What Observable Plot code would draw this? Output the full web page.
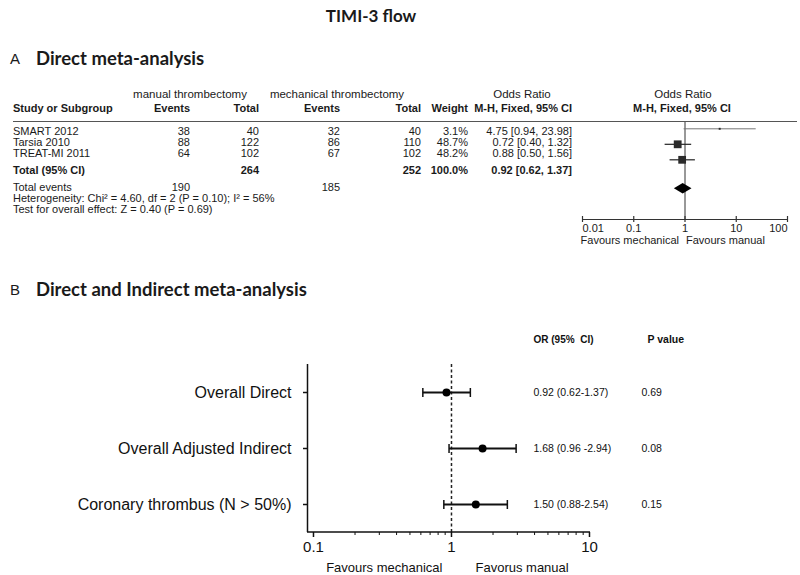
<!DOCTYPE html>
<html><head><meta charset="utf-8">
<script src="https://cdn.jsdelivr.net/npm/d3@7"></script>
<script src="https://cdn.jsdelivr.net/npm/@observablehq/plot@0.6"></script>
<style>
body{margin:0;background:#fff;}
#fig{position:relative;width:800px;height:575px;overflow:hidden;font-family:"Liberation Sans",Arial,sans-serif;color:#1a1a1a;}
.t{position:absolute;white-space:nowrap;}
.h{font-family:Lato,"Open Sans",sans-serif;font-weight:bold;}
#fig svg{position:absolute;left:0;}
</style></head><body><div id="fig"></div>
<script>
// ---------- data: panel A ----------
const studies = ["SMART 2012", "Tarsia 2010", "TREAT-MI 2011"];
const manualEvents = [38, 88, 64];
const manualTotal = [40, 122, 102];
const mechEvents = [32, 86, 67];
const mechTotal = [40, 110, 102];
const weights = [3.1, 48.7, 48.2];
const orEst = [4.75, 0.72, 0.88];
const orLo = [0.94, 0.40, 0.50];
const orHi = [23.98, 1.32, 1.56];
const pooledOR = 0.92, pooledLo = 0.62, pooledHi = 1.37;
const heterogeneityText = "Heterogeneity: Chi\u00B2 = 4.60, df = 2 (P = 0.10); I\u00B2 = 56%";
const overallText = "Test for overall effect: Z = 0.40 (P = 0.69)";
const ticksA = [0.01, 0.1, 1, 10, 100];

// ---------- data: panel B ----------
const comparisons = ["Overall Direct", "Overall Adjusted Indirect", "Coronary thrombus (N > 50%)"];
const bOR = [0.92, 1.68, 1.50];
const bLo = [0.62, 0.96, 0.88];
const bHi = [1.37, 2.94, 2.54];
const bCIText = ["0.92 (0.62-1.37)", "1.68 (0.96 -2.94)", "1.50 (0.88-2.54)"];
const bP = ["0.69", "0.08", "0.15"];
const ticksB = [0.1, 1, 10];
const minorTicksB = [0.2, 0.3, 0.4, 0.5, 0.6, 0.7, 0.8, 0.9, 2, 3, 4, 5, 6, 7, 8, 9];

// ---------- helpers ----------
const fig = document.getElementById("fig");
function put(txt, x, y, o = {}) {
  const {anchor = "start", size = 11, bold = false, cls = ""} = o;
  const el = document.createElement("div");
  el.className = "t " + cls;
  el.textContent = txt;
  el.style.fontSize = size + "px";
  el.style.lineHeight = size + "px";
  el.style.top = (y - size / 2) + "px";
  if (bold) el.style.fontWeight = "bold";
  if (anchor === "start") el.style.left = x + "px";
  else if (anchor === "end") el.style.right = (800 - x) + "px";
  else { el.style.left = x + "px"; el.style.transform = "translateX(-50%)"; }
  fig.appendChild(el);
  return el;
}
const fmt2 = v => v.toFixed(2);

// ---------- titles ----------
put("TIMI-3 flow", 371, 15, {anchor: "middle", size: 17, cls: "h"});
put("A", 10, 58, {size: 15});
put("Direct meta-analysis", 36, 58, {size: 18.5, cls: "h"});
put("B", 10, 289, {size: 15});
put("Direct and Indirect meta-analysis", 36, 289, {size: 18.5, cls: "h"});

// ---------- panel A table ----------
const col = {ev1: 190, tot1: 259, ev2: 340, tot2: 421, w: 468, or: 572};
put("manual thrombectomy", 190, 95, {anchor: "middle", size: 11.5});
put("mechanical thrombectomy", 337, 95, {anchor: "middle", size: 11.5});
put("Odds Ratio", 522, 95, {anchor: "middle", size: 11.5});
put("Odds Ratio", 683, 95, {anchor: "middle", size: 11.5});
put("Study or Subgroup", 13, 108, {bold: true});
put("Events", col.ev1, 108, {anchor: "end", bold: true});
put("Total", col.tot1, 108, {anchor: "end", bold: true});
put("Events", col.ev2, 108, {anchor: "end", bold: true});
put("Total", col.tot2, 108, {anchor: "end", bold: true});
put("Weight", col.w, 108, {anchor: "end", bold: true});
put("M-H, Fixed, 95% CI", col.or, 108, {anchor: "end", bold: true});
put("M-H, Fixed, 95% CI", 682, 108, {anchor: "middle", bold: true});
const line = document.createElement("div");
Object.assign(line.style, {position: "absolute", left: "13px", top: "121px", width: "784px", height: "0", borderTop: "1.5px solid #555"});
fig.appendChild(line);

const tableRowsY = [131.7, 142.7, 153.3];
studies.forEach((s, i) => {
  const y = tableRowsY[i];
  put(s, 13, y);
  put(String(manualEvents[i]), col.ev1, y, {anchor: "end"});
  put(String(manualTotal[i]), col.tot1, y, {anchor: "end"});
  put(String(mechEvents[i]), col.ev2, y, {anchor: "end"});
  put(String(mechTotal[i]), col.tot2, y, {anchor: "end"});
  put(weights[i].toFixed(1) + "%", col.w, y, {anchor: "end"});
  put(`${fmt2(orEst[i])} [${fmt2(orLo[i])}, ${fmt2(orHi[i])}]`, col.or, y, {anchor: "end"});
});
put("Total (95% CI)", 13, 170, {bold: true});
put(String(d3.sum(manualTotal)), col.tot1, 170, {anchor: "end", bold: true});
put(String(d3.sum(mechTotal)), col.tot2, 170, {anchor: "end", bold: true});
put(d3.sum(weights).toFixed(1) + "%", col.w, 170, {anchor: "end", bold: true});
put(`${fmt2(pooledOR)} [${fmt2(pooledLo)}, ${fmt2(pooledHi)}]`, col.or, 170, {anchor: "end", bold: true});
put("Total events", 13, 187.3);
put(String(d3.sum(manualEvents)), col.ev1, 187.3, {anchor: "end"});
put(String(d3.sum(mechEvents)), col.ev2, 187.3, {anchor: "end"});
put(heterogeneityText, 13, 198.3);
put(overallText, 13, 209);

// ---------- panel A forest ----------
const rowsA = studies.map((s, i) => ({study: s, row: i, or: orEst[i], lo: orLo[i], hi: orHi[i], weight: weights[i]}));
const totalRow = studies.length + 0.87;
const dh = 0.34;
const diamond = [
  {x: pooledLo, y1: totalRow, y2: totalRow},
  {x: pooledOR, y1: totalRow - dh, y2: totalRow + dh},
  {x: pooledHi, y1: totalRow, y2: totalRow}
];
const hA = 130, mbA = 33, frameBottomA = hA - mbA;
const yA = d3.scaleLinear().domain([0, totalRow]).range([6.3, 66.3]);
const tickFmt = d => String(d);
const plotA = Plot.plot({
  width: 800, height: hA,
  marginLeft: 582, marginRight: 13, marginTop: 0, marginBottom: mbA,
  style: {fontFamily: "Liberation Sans, Arial, sans-serif", fontSize: "11px", color: "#1a1a1a", background: "transparent"},
  x: {type: "log", domain: [0.01, 100], axis: null},
  y: {domain: yA.domain(), range: yA.range(), axis: null},
  r: {range: [0, 4.4]},
  marks: [
    Plot.ruleX([1], {stroke: "#333", strokeWidth: 1}),
    Plot.ruleY([yA.invert(frameBottomA)], {stroke: "#333", strokeWidth: 1.2}),
    Plot.ruleX(ticksA, {x: d => d, y1: yA.invert(frameBottomA - 3), y2: yA.invert(frameBottomA + 3), stroke: "#333", strokeWidth: 1.2}),
    Plot.link(rowsA.filter(d => d.weight < 10), {x1: "lo", x2: "hi", y1: "row", y2: "row", stroke: "#777", strokeWidth: 1}),
    Plot.link(rowsA.filter(d => d.weight >= 10), {x1: "lo", x2: "hi", y1: "row", y2: "row", stroke: "#222", strokeWidth: 1.2}),
    Plot.dot(rowsA, {x: "or", y: "row", r: "weight", symbol: "square", fill: "#2a2a2a"}),
    Plot.areaY(diamond, {x: "x", y1: "y1", y2: "y2", fill: "#000"}),
    Plot.text(ticksA.slice(1, -1), {x: d => d, text: tickFmt, frameAnchor: "bottom", lineAnchor: "middle", dy: 9}),
    Plot.text(ticksA.slice(0, 1), {x: d => d, text: tickFmt, frameAnchor: "bottom", lineAnchor: "middle", dy: 9, textAnchor: "start"}),
    Plot.text(ticksA.slice(-1), {x: d => d, text: tickFmt, frameAnchor: "bottom", lineAnchor: "middle", dy: 9, textAnchor: "end"}),
    Plot.text([{x: 1, t: "Favours mechanical"}], {x: "x", text: "t", frameAnchor: "bottom", lineAnchor: "middle", dy: 21, dx: -6, textAnchor: "end"}),
    Plot.text([{x: 1, t: "Favours manual"}], {x: "x", text: "t", frameAnchor: "bottom", lineAnchor: "middle", dy: 21, dx: 1, textAnchor: "start"})
  ]
});
plotA.style.top = "122px";
fig.appendChild(plotA);

// ---------- panel B ----------
const rowsB = comparisons.map((c, i) => ({label: c, or: bOR[i], lo: bLo[i], hi: bHi[i], ci: bCIText[i], p: bP[i]}));
const capSymbol = {draw(ctx, size) { const h = Math.sqrt(size / Math.PI); ctx.moveTo(0, -h); ctx.lineTo(0, h); }};
const xDomainB = [0.0905, 10.17];
const hB = 275, mbB = 43;
const plotB = Plot.plot({
  width: 800, height: hB,
  marginLeft: 307, marginRight: 210, marginTop: 64, marginBottom: mbB,
  style: {fontFamily: "Liberation Sans, Arial, sans-serif", fontSize: "11px", color: "#111", background: "transparent"},
  x: {type: "log", domain: xDomainB},
  y: {domain: comparisons},
  marks: [
    Plot.ruleX([1], {stroke: "#222", strokeWidth: 1.5, strokeDasharray: "3,2.5"}),
    Plot.ruleX([xDomainB[0]], {stroke: "#111", strokeWidth: 1.5}),
    Plot.link(rowsB, {x1: "lo", x2: "hi", y1: "label", y2: "label", stroke: "#111", strokeWidth: 2}),
    Plot.dot(rowsB, {x: "lo", y: "label", symbol: capSymbol, r: 4.5, stroke: "#111", strokeWidth: 1.5}),
    Plot.dot(rowsB, {x: "hi", y: "label", symbol: capSymbol, r: 4.5, stroke: "#111", strokeWidth: 1.5}),
    Plot.dot(rowsB, {x: "or", y: "label", r: 4, fill: "#000"}),
    Plot.text(rowsB, {y: "label", text: "ci", frameAnchor: "right", dx: -57, textAnchor: "start", fontSize: 10.5}),
    Plot.text(rowsB, {y: "label", text: "p", frameAnchor: "right", dx: 51, textAnchor: "start", fontSize: 10.5}),
    Plot.text(["OR (95%  CI)"], {text: d => d, frameAnchor: "top-right", lineAnchor: "middle", dx: -57, dy: -25, textAnchor: "start", fontWeight: "bold", fontSize: 10}),
    Plot.text(["P value"], {text: d => d, frameAnchor: "top-right", lineAnchor: "middle", dx: 57, dy: -25, textAnchor: "start", fontWeight: "bold", fontSize: 10.5}),
    Plot.axisY({tickSize: 4, tickPadding: 12, fontSize: 16, label: null, strokeWidth: 1.5}),
    Plot.axisX({ticks: ticksB, tickSize: 5, tickPadding: 4, fontSize: 15, tickFormat: tickFmt, label: null, strokeWidth: 1.5}),
    Plot.axisX({ticks: minorTicksB, tickSize: 3, tickFormat: () => "", label: null}),
    Plot.text([{x: 1, t: "Favours mechanical"}], {x: "x", text: "t", frameAnchor: "bottom", lineAnchor: "middle", dy: 35, dx: -9, textAnchor: "end", fontSize: 13}),
    Plot.text([{x: 1, t: "Favorus manual"}], {x: "x", text: "t", frameAnchor: "bottom", lineAnchor: "middle", dy: 35, dx: 24, textAnchor: "start", fontSize: 13})
  ]
});
// x-axis baseline along the bottom of the frame, from the x scale's range
const xr = plotB.scale("x").range;
d3.select(plotB).append("line")
  .attr("x1", xr[0]).attr("x2", xr[1])
  .attr("y1", hB - mbB).attr("y2", hB - mbB)
  .attr("stroke", "#111").attr("stroke-width", 1.5);
plotB.style.top = "300px";
fig.appendChild(plotB);
</script>
</body></html>
